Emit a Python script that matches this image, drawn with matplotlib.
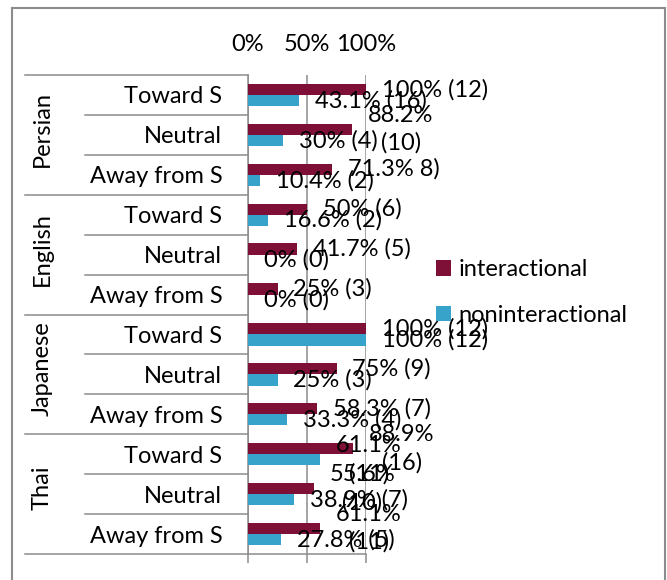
import numpy as np
import matplotlib
matplotlib.use("Agg")
import matplotlib.pyplot as plt
from matplotlib.lines import Line2D
from matplotlib.transforms import blended_transform_factory

plt.rcParams['font.family'] = ['Lato', 'DejaVu Sans']

# data, top row first
languages = ["Persian", "English", "Japanese", "Thai"]
directions = ["Toward S", "Neutral", "Away from S"]
interactional = [100, 88.2, 71.3, 50, 41.7, 25, 100, 75, 58.3, 88.9, 55.6, 61.1]
noninteractional = [43.1, 30, 10.4, 16.6, 0, 0, 100, 25, 33.3, 61.1, 38.9, 27.8]
inter_labels = ["100% (12)", "88.2%\n(10)", "71.3% 8)",
                "50% (6)", "41.7% (5)", "25% (3)",
                "100% (12)", "75% (9)", "58.3% (7)",
                "88.9%\n(16)", "55.6%\n(10)", "61.1%\n(11)"]
nonint_labels = ["43.1% (16)", "30% (4)", "10.4% (2)",
                 "16.6% (2)", "0% (0)", "0% (0)",
                 "100% (12)", "25% (3)", "33.3% (4)",
                 "61.1%\n(11)", "38.9% (7)", "27.8% (5)"]

maroon = "#7E1037"
blue = "#38A3CA"
grey = "#8C8C8C"
W, H = 667, 580
fs = 17

fig = plt.figure(figsize=(W / 100, H / 100), dpi=100)
ax = fig.add_axes([248 / W, 1 - 554 / H, 118 / W, (554 - 75) / H])

rows = np.arange(len(interactional))
h = 0.28
inter = np.array(interactional) / 100
nonint = np.array(noninteractional) / 100
ax.barh(rows - h / 2, inter, height=h, color=maroon, label="interactional", zorder=3)
ax.barh(rows + h / 2, nonint, height=h, color=blue, label="noninteractional", zorder=3)

for i in rows:
    ax.annotate(inter_labels[i], (inter[i], i - h / 2), xytext=(11.5, 0),
                textcoords="offset points", ha="left", va="center",
                multialignment="center", fontsize=fs, linespacing=1.38,
                annotation_clip=False, zorder=5)
    ax.annotate(nonint_labels[i], (nonint[i], i + h / 2), xytext=(11.5, 0),
                textcoords="offset points", ha="left", va="center",
                multialignment="center", fontsize=fs, linespacing=1.38,
                annotation_clip=False, zorder=5)

ax.set_xlim(0, 1)
ax.set_ylim(len(rows) - 0.5, -0.5)
ax.set_xticks([0, 0.5, 1])
ax.set_xticklabels(["0%", "50%", "100%"], fontsize=fs)
ax.tick_params(axis="x", bottom=True, top=False, labelbottom=False, labeltop=True,
               length=6.5, width=1.1, color=grey, pad=8)
ax.grid(axis="x", color=grey, linewidth=1.1, zorder=0)
ax.set_yticks(rows)
ax.set_yticklabels(directions * len(languages), fontsize=fs)
ax.tick_params(axis="y", length=0, pad=18.5)
for s in ["top", "right"]:
    ax.spines[s].set_visible(False)
for s in ["left", "bottom"]:
    ax.spines[s].set_color(grey)
    ax.spines[s].set_linewidth(1.1)

# multi-level category axis
tr = blended_transform_factory(fig.transFigure, ax.transData)
for g, lang in enumerate(languages):
    top = g * 3 - 0.5
    ax.add_line(Line2D([25 / W, 248 / W], [top, top], transform=tr, color=grey,
                       linewidth=1.1, clip_on=False))
    for k in (1, 2):
        ax.add_line(Line2D([85 / W, 248 / W], [top + k, top + k], transform=tr,
                           color=grey, linewidth=1.1, clip_on=False))
    ax.text(42 / W, g * 3 + 0.85, lang, transform=tr, rotation=90, ha="center",
            va="center", fontsize=fs)
ax.add_line(Line2D([25 / W, 248 / W], [11.5, 11.5], transform=tr, color=grey,
                   linewidth=1.1, clip_on=False))

ax.legend(loc="upper left", bbox_to_anchor=(436 / W, 1 - 259 / H),
          bbox_transform=fig.transFigure, frameon=False, fontsize=fs,
          handlelength=0.65, handleheight=0.65, handletextpad=0.3,
          labelspacing=1.05, borderpad=0, borderaxespad=0)

# chart border
for xs, ys in [([12, 12], [8, 580]), ([12, 665], [8, 8]), ([665, 665], [8, 580])]:
    fig.add_artist(Line2D([x / W for x in xs], [1 - y / H for y in ys],
                          color=grey, linewidth=1.5))

fig.savefig("out.png", dpi=100)
